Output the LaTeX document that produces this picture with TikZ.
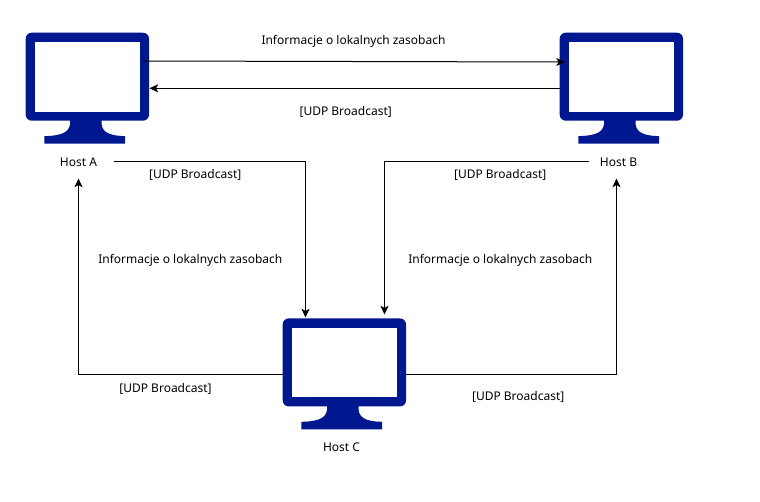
\documentclass[tikz,border=0pt]{standalone}
\usepackage{fontspec}
\setmainfont{Noto Sans}
\usetikzlibrary{arrows.meta}
\definecolor{monitorblue}{HTML}{00188F}
\tikzset{
  x=0.75pt,y=-0.75pt,
  screenbody/.style={fill=monitorblue,rounded corners=4.5pt,minimum width=92.5pt,minimum height=66pt,inner sep=0pt},
  screenglass/.style={fill=white,minimum width=79.2pt,minimum height=52.3pt,inner sep=0pt},
  standshape/.style={fill=monitorblue},
  lbl/.style={font=\fontsize{9pt}{11pt}\selectfont,text=black,inner sep=0pt},
  conn/.style={draw=black,line width=0.75pt,-{Stealth[length=6.5pt,width=6pt,inset=1.6pt]}}
}
\newcommand{\drawmonitor}[3]{%
  \node[screenbody] (#1) at (#2+61.65,#3+44) {};
  \node[screenglass] (#1glass) at (#2+61.9,#3+44.2) {};
  \fill[standshape] (#2+44.3,#3+87) .. controls (#2+45.5,#3+99) and (#2+38,#3+103) .. (#2+18.6,#3+103.4)
    -- (#2+18.6,#3+111) -- (#2+99.3,#3+111) -- (#2+99.3,#3+103.4)
    .. controls (#2+82,#3+103) and (#2+74.5,#3+99) .. (#2+76,#3+87) -- cycle;
}
\begin{document}
\begin{tikzpicture}
\useasboundingbox (0,0) rectangle (760,501);
\fill[white] (0,0) rectangle (760,501);
\drawmonitor{hosta}{25.7}{32.7}
\drawmonitor{hostb}{559.7}{32.7}
\drawmonitor{hostc}{282.7}{318.4}
\node[lbl] (labela) at (78.5,162) {Host A};
\node[lbl] (labelb) at (618.5,162) {Host B};
\node[lbl] (labelc) at (341.5,447.5) {Host C};
\node[lbl] (info1) at (353.5,41) {Informacje o lokalnych zasobach};
\node[lbl] (info2) at (190.3,260.5) {Informacje o lokalnych zasobach};
\node[lbl] (info3) at (500.3,260.5) {Informacje o lokalnych zasobach};
\node[lbl] (udp1) at (345.7,111.5) {[UDP Broadcast]};
\node[lbl] (udp2) at (195.2,174.5) {[UDP Broadcast]};
\node[lbl] (udp3) at (500.2,174.5) {[UDP Broadcast]};
\node[lbl] (udp4) at (165.5,389) {[UDP Broadcast]};
\node[lbl] (udp5) at (518.2,397) {[UDP Broadcast]};
\coordinate (aout) at (143,61);
\coordinate (bin) at (565,62);
\coordinate (bout) at (559.7,88.3);
\coordinate (ain) at (149.5,88.3);
\coordinate (lao) at (113.5,161.8);
\coordinate (cina) at (305.5,317.5);
\coordinate (lbo) at (588.5,161.8);
\coordinate (cinb) at (384.5,314.5);
\coordinate (cl) at (282.7,374);
\coordinate (cr) at (406,374);
\coordinate (lai) at (78.5,178.5);
\coordinate (lbi) at (616.5,178.5);
\draw[conn] (aout) -- (bin);
\draw[conn] (bout) -- (ain);
\draw[conn] (lao) -| (cina);
\draw[conn] (lbo) -| (cinb);
\draw[conn] (cl) -| (lai);
\draw[conn] (cr) -| (lbi);
\end{tikzpicture}
\end{document}
